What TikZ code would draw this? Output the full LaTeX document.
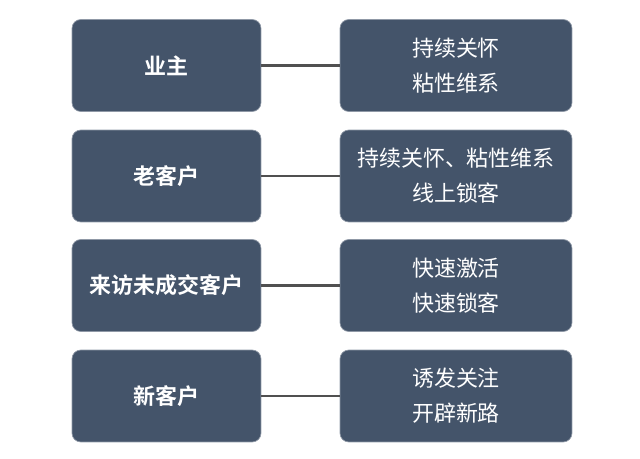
\documentclass[tikz,border=0pt]{standalone}
\usepackage{fontspec}
\newfontfamily\cjksans{Noto Sans CJK SC}
\newfontfamily\cjkbold{Noto Sans CJK SC Bold}
\usetikzlibrary{positioning}

\definecolor{slate}{HTML}{44546A}
\definecolor{linkgray}{HTML}{505050}

\tikzset{
    group/.style={fill=slate, draw=slate!60, rounded corners=5pt, text=white,
        minimum width=3.78cm, minimum height=1.84cm, inner sep=0pt, outer sep=0pt,
        font=\cjkbold\fontsize{12.5}{15}\selectfont},
    action/.style={fill=slate, draw=slate!60, rounded corners=5pt, text=white,
        minimum width=4.64cm, minimum height=1.84cm, inner sep=0pt, outer sep=0pt,
        align=center, font=\cjksans\fontsize{12.5}{20}\selectfont},
    link/.style={linkgray, line width=1.4pt}
}

\begin{document}
\begin{tikzpicture}[x=0.02cm, y=-0.02cm]
    % Canvas
    \useasboundingbox (0, 0) rectangle (640, 459);

    % Customer groups
    \node[group] (owner)   at (166.5, 65.5) {业主};
    \node[group] (oldcust) at (166.5, 176)  {老客户};
    \node[group] (visitor) at (166.5, 285.5) {来访未成交客户};
    \node[group] (newcust) at (166.5, 396)  {新客户};

    % Actions
    \node[action] (care)     at (456, 65.5)  {持续关怀\\粘性维系};
    \node[action] (online)   at (456, 176)   {持续关怀、粘性维系\\线上锁客};
    \node[action] (activate) at (456, 285.5) {快速激活\\快速锁客};
    \node[action] (attract)  at (456, 396)   {诱发关注\\开辟新路};

    % Links
    \draw[link] (owner)   -- (care);
    \draw[link] (oldcust) -- (online);
    \draw[link] (visitor) -- (activate);
    \draw[link] (newcust) -- (attract);
\end{tikzpicture}
\end{document}
